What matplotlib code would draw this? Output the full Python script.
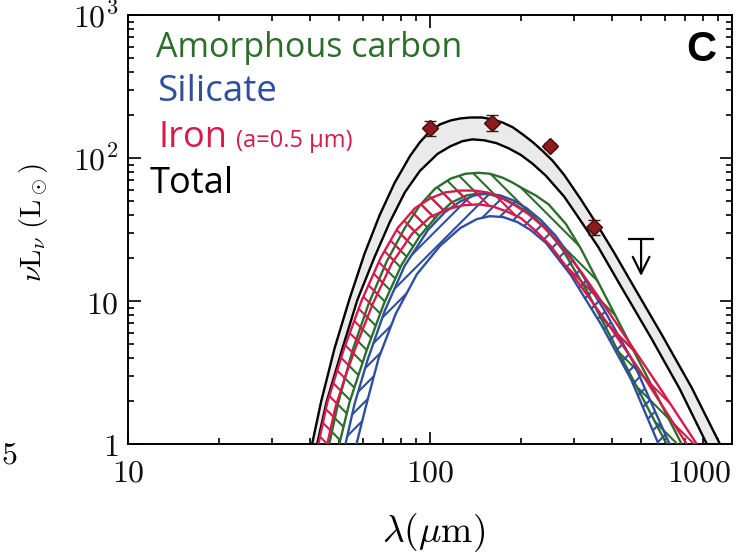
import numpy as np
import matplotlib
matplotlib.use("Agg")
import matplotlib.pyplot as plt
from matplotlib.ticker import FixedLocator, LogLocator, NullFormatter, FixedFormatter

plt.rcParams["mathtext.fontset"] = "cm"
plt.rcParams["hatch.linewidth"] = 1.5

# ---- model envelopes: wavelength [micron], nu L_nu [L_sun] ----
total_hi_lam = [40.7, 43.6, 48.3, 54.1, 60.7, 68.1, 76.4, 85.8, 92.6, 100, 108, 117, 126, 136,
                149, 161, 174, 188, 203, 219, 236, 255, 278, 316, 360, 407, 464, 585, 736, 912]
total_hi_val = [1.0, 1.98, 4.67, 10.3, 21.4, 39.8, 67.2, 103, 129, 154, 172, 183, 189, 192,
                192, 186, 177, 164, 146, 129, 112, 95.4, 76.3, 51.3, 33.4, 21.8, 13.5, 5.83,
                2.47, 1.0]
total_lo_lam = [42.3, 45.4, 51.3, 57.5, 65.6, 73.6, 82.5, 92.6, 106, 117, 128, 138, 151, 166,
                182, 200, 219, 242, 278, 316, 360, 423, 541, 671, 825]
total_lo_val = [1.0, 1.95, 4.67, 10.2, 20.4, 35.6, 57.4, 81.3, 107, 121, 131, 135, 133, 127,
                117, 105, 90.9, 75.1, 53.8, 36.2, 24.0, 13.3, 5.47, 2.43, 1.0]

carbon_hi_lam = [46.4, 49.7, 55.4, 62.6, 71.9, 82.5, 92.6, 104, 117, 131, 145, 158, 174, 188,
                 203, 224, 247, 282, 316, 369, 457, 562, 681]
carbon_hi_val = [1.0, 1.95, 4.52, 9.53, 18.9, 32.4, 46.7, 61.1, 71.7, 77.6, 78.8, 77.6, 72.8,
                 67.2, 61.1, 54.7, 47.4, 34.5, 23.2, 12.3, 5.13, 2.21, 1.0]
carbon_lo_lam = [50.1, 54.1, 61.7, 70.3, 80.6, 92.6, 106, 118, 132, 145, 158, 175, 193, 215,
                 242, 275, 331, 407, 501, 607]
carbon_lo_val = [1.0, 1.95, 4.52, 9.53, 18.0, 28.5, 39.8, 48.9, 54.7, 56.5, 55.6, 52.1, 46.7,
                 40.5, 32.4, 22.8, 11.7, 5.05, 2.18, 1.0]

silicate_hi_lam = [52.5, 56.2, 62.1, 70.8, 82.5, 98.5, 112, 126, 140, 155, 171, 189, 209, 233,
                   261, 304, 377, 471, 621]
silicate_hi_val = [1.0, 1.89, 3.86, 8.53, 17.7, 31.4, 41.8, 49.7, 54.7, 56.5, 54.7, 50.5, 44.5,
                   36.8, 28.5, 18.0, 8.67, 3.74, 1.0]
silicate_lo_lam = [57.1, 61.2, 67.6, 77.0, 90.5, 108, 126, 143, 158, 175, 195, 215, 242, 293,
                   369, 464, 571]
silicate_lo_val = [1.0, 1.80, 3.98, 8.14, 15.4, 24.3, 32.4, 37.4, 39.2, 38.6, 35.6, 31.4, 25.5,
                   15.1, 6.83, 2.81, 1.0]

iron_hi_lam = [42.7, 45.7, 51.7, 59.3, 68.7, 78.2, 89.1, 100, 112, 126, 140, 155, 171, 189,
               212, 238, 271, 316, 369, 464, 585, 764]
iron_hi_val = [1.0, 1.95, 4.52, 10.0, 20.1, 32.4, 44.5, 52.1, 57.4, 59.2, 59.2, 57.4, 53.0,
               47.4, 40.5, 32.9, 24.3, 16.1, 10.0, 4.89, 2.36, 1.0]
iron_lo_lam = [45.7, 48.6, 52.5, 56.6, 64.6, 74.7, 87.1, 100, 114, 129, 145, 161, 179, 200,
               224, 251, 311, 392, 494, 708]
iron_lo_val = [1.0, 1.80, 2.99, 4.67, 9.53, 18.3, 29.4, 38.6, 43.8, 46.7, 47.4, 45.9, 42.4,
               38.0, 30.9, 24.3, 13.3, 6.72, 3.29, 1.0]

# ---- photometry ----
obs_lam = [100, 160, 250, 350]
obs_val = [161, 177, 121, 32.9]
obs_err = [19, 22, 6, 4]
ulim_lam = [500]
ulim_val = [27.2]

x_ticks = [10, 100, 1000]
x_ticklabels = ["$10$", "$100$", "$1000$"]
y_ticks = [1, 10, 100, 1000]
y_ticklabels = ["$1$", "$10$", "$10^2$", "$10^3$"]

GREEN = "#2b6e2b"
BLUE = "#2e4e9e"
RED = "#d81a4a"
W, H = 745, 557

fig = plt.figure(figsize=(W / 100, H / 100), dpi=100)
ax = fig.add_axes([128 / W, 1 - 444 / H, 604 / W, 429 / H])
ax.set_xscale("log")
ax.set_yscale("log")


def band(lam_hi, val_hi, lam_lo, val_lo, color, hatch=None, face=None, z=2):
    xs = np.concatenate([lam_hi, lam_lo[::-1]])
    ys = np.concatenate([val_hi, val_lo[::-1]])
    if face is not None:
        ax.fill(xs, ys, facecolor=face, edgecolor="none", zorder=z)
    if hatch is not None:
        ax.fill(xs, ys, facecolor="none", edgecolor=color, hatch=hatch, linewidth=0, zorder=z)
    for lam, val in ((lam_hi, val_hi), (lam_lo, val_lo)):
        ax.plot(lam, val, color=color, lw=1.7, zorder=z + 0.1,
                solid_joinstyle="round", solid_capstyle="butt")


band(total_hi_lam, total_hi_val, total_lo_lam, total_lo_val, "k", face="#eaeaea", z=2)
band(carbon_hi_lam, carbon_hi_val, carbon_lo_lam, carbon_lo_val, GREEN, hatch="\\\\", z=3)
band(silicate_hi_lam, silicate_hi_val, silicate_lo_lam, silicate_lo_val, BLUE, hatch="//", z=4)
band(iron_hi_lam, iron_hi_val, iron_lo_lam, iron_lo_val, RED, hatch="\\\\", z=5)

ax.errorbar(obs_lam, obs_val, yerr=obs_err, fmt="D", ms=8.5, mfc="#8e1b1b", mec="#4a0a0a",
            mew=1.0, ecolor="#222222", elinewidth=1.3, capsize=4, capthick=1.3, zorder=8)
ax.plot(ulim_lam, ulim_val, marker="_", ms=19, mew=1.6, color="k", zorder=8)
for lam, val in zip(ulim_lam, ulim_val):
    ax.annotate("", xy=(lam, val * 0.55), xytext=(lam, val),
                arrowprops=dict(arrowstyle="->", lw=1.6, color="k", mutation_scale=30,
                                shrinkA=0, shrinkB=0), zorder=8)

ax.set_xlim(10, 1000)
ax.set_ylim(1, 1000)
ax.xaxis.set_major_locator(FixedLocator(x_ticks))
ax.xaxis.set_major_formatter(FixedFormatter(x_ticklabels))
ax.yaxis.set_major_locator(FixedLocator(y_ticks))
ax.yaxis.set_major_formatter(FixedFormatter(y_ticklabels))
for axis in (ax.xaxis, ax.yaxis):
    axis.set_minor_locator(LogLocator(base=10, subs=np.arange(2, 10)))
    axis.set_minor_formatter(NullFormatter())
ax.tick_params(which="both", direction="in", top=True, right=True, width=1.3,
               labelsize=23, colors="#111111")
ax.tick_params(which="major", length=9)
ax.tick_params(which="minor", length=4.5)
ax.tick_params(axis="x", pad=10)
ax.tick_params(axis="y", pad=7)
xlabels = ax.get_xticklabels()
xlabels[-1].set_horizontalalignment("right")
for s in ax.spines.values():
    s.set_linewidth(1.4)

fig.text(434 / W, 1 - 533 / H, r"$\lambda(\mu \mathrm{m})$", fontsize=27, ha="center", va="center")
fig.text(34 / W, 1 - 222 / H, r"$\nu \mathrm{L}_\nu\;(\mathrm{L}_\odot)$", fontsize=21,
         rotation=90, ha="center", va="center")
fig.text(1 / W, 1 - 455 / H, "$5$", fontsize=23, ha="left", va="center")

leg_font = ["Open Sans", "DejaVu Sans"]
fig.text(156 / W, 1 - 57 / H, "Amorphous carbon", color=GREEN, fontsize=24.5,
         family=leg_font, va="baseline")
fig.text(157 / W, 1 - 101 / H, "Silicate", color=BLUE, fontsize=26.5,
         family=leg_font, va="baseline")
fig.text(158 / W, 1 - 147 / H, "Iron", color=RED, fontsize=26,
         family=leg_font, va="baseline")
fig.text(236 / W, 1 - 147 / H, "(a=0.5 μm)", color=RED, fontsize=17,
         family=leg_font, va="baseline")
fig.text(150 / W, 1 - 193 / H, "Total", color="k", fontsize=26,
         family=leg_font, va="baseline")
fig.text(701 / W, 1 - 50 / H, "C", color="k", fontsize=30, fontweight="bold",
         family=["Liberation Sans", "DejaVu Sans"], ha="center", va="center")

fig.savefig("out.png", dpi=100)
